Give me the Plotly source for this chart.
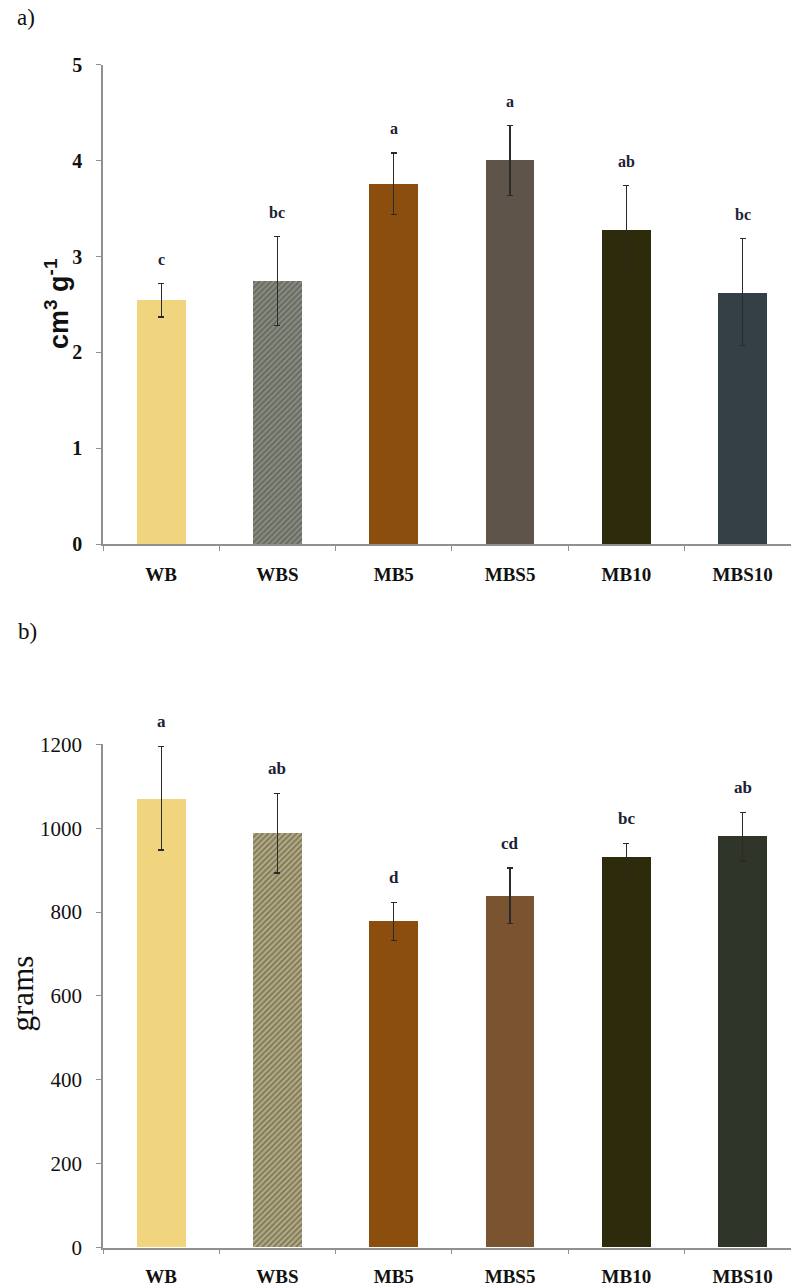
import plotly.graph_objects as go

categories = ["WB", "WBS", "MB5", "MBS5", "MB10", "MBS10"]

# Panel a) cm3 g-1
a_values = [2.55, 2.75, 3.76, 4.01, 3.28, 2.62]
a_upper = [2.72, 3.21, 4.08, 4.37, 3.74, 3.19]
a_lower = [2.37, 2.28, 3.44, 3.64, 2.83, 2.07]
a_letters = ["c", "bc", "a", "a", "ab", "bc"]
a_ticks = [0, 1, 2, 3, 4, 5]

# Panel b) grams
b_values = [1070, 988, 778, 838, 930, 980]
b_upper = [1195, 1083, 823, 905, 963, 1038]
b_lower = [948, 893, 733, 773, 898, 922]
b_letters = ["a", "ab", "d", "cd", "bc", "ab"]
b_ticks = [0, 200, 400, 600, 800, 1000, 1200]

a_colors = ["#F0D47E", "#8A8E80", "#8C4E0E", "#5E544A", "#2E2B0C", "#343F46"]
b_colors = ["#F0D47E", "#B8AE80", "#8C4E0E", "#7A5430", "#2E2B0C", "#30352A"]
a_pattern_fg = ["#F0D47E", "#585D50", "#8C4E0E", "#5E544A", "#2E2B0C", "#343F46"]
b_pattern_fg = ["#F0D47E", "#857B50", "#8C4E0E", "#7A5430", "#2E2B0C", "#30352A"]
shapes_pat = ["", "/", "", "", "", ""]

SERIF = "Liberation Serif"

fig = go.Figure()

fig.add_trace(go.Bar(
    x=categories, y=a_values, width=0.42,
    marker=dict(color=a_colors, line=dict(width=0),
                pattern=dict(shape=shapes_pat, fgcolor=a_pattern_fg,
                             size=4, solidity=0.5, fillmode="overlay")),
    error_y=dict(type="data", symmetric=False,
                 array=[u - v for u, v in zip(a_upper, a_values)],
                 arrayminus=[v - l for l, v in zip(a_lower, a_values)],
                 color="#2a2a2a", thickness=1.3, width=3),
    xaxis="x", yaxis="y", showlegend=False))

fig.add_trace(go.Bar(
    x=categories, y=b_values, width=0.42,
    marker=dict(color=b_colors, line=dict(width=0),
                pattern=dict(shape=shapes_pat, fgcolor=b_pattern_fg,
                             size=4, solidity=0.5, fillmode="overlay")),
    error_y=dict(type="data", symmetric=False,
                 array=[u - v for u, v in zip(b_upper, b_values)],
                 arrayminus=[v - l for l, v in zip(b_lower, b_values)],
                 color="#2a2a2a", thickness=1.3, width=3),
    xaxis="x2", yaxis="y2", showlegend=False))

annotations = []
for c, up, t in zip(categories, a_upper, a_letters):
    annotations.append(dict(x=c, y=up, xref="x", yref="y", text="<b>%s</b>" % t,
                            showarrow=False, yanchor="middle", yshift=24,
                            font=dict(family=SERIF, size=16, color="#1c2233")))
for c, up, t in zip(categories, b_upper, b_letters):
    annotations.append(dict(x=c, y=up, xref="x2", yref="y2", text="<b>%s</b>" % t,
                            showarrow=False, yanchor="middle", yshift=25,
                            font=dict(family=SERIF, size=17, color="#1c2233")))

H = 1287
L = 103
W = 791 - L
def px(xpix):
    return (xpix - L) / W
def py(ypix):
    corr = -4 + 8 * (ypix - 66) / 1182
    return 1 - ((ypix + corr - 8.9) / 0.9865) / H

annotations += [
    dict(x=px(26), y=py(19), xref="paper", yref="paper", text="a)", showarrow=False,
         font=dict(family=SERIF, size=23, color="#111"), xanchor="center", yanchor="middle"),
    dict(x=px(27), y=py(632), xref="paper", yref="paper", text="b)", showarrow=False,
         font=dict(family=SERIF, size=23, color="#111"), xanchor="center", yanchor="middle"),
    dict(x=px(57), y=py(305), xref="paper", yref="paper",
         text="<b>cm<sup>3</sup> g<sup>-1</sup></b>", showarrow=False, textangle=-90,
         font=dict(family="Liberation Sans", size=27, color="#111"), xanchor="center", yanchor="middle"),
    dict(x=px(22), y=py(994), xref="paper", yref="paper", text="grams", showarrow=False,
         textangle=-90, font=dict(family=SERIF, size=31, color="#111"),
         xanchor="center", yanchor="middle"),
]

xrange = [-0.5, -0.5 + W / 116.3]
axis_common = dict(showline=True, linecolor="#909090", linewidth=1.5, showgrid=False,
                   zeroline=False, ticks="outside", ticklen=5, tickcolor="#909090", tickwidth=1)

fig.update_layout(
    width=791, height=H,
    margin=dict(l=L, r=0, t=0, b=0),
    paper_bgcolor="white", plot_bgcolor="white",
    bargap=0,
    xaxis=dict(domain=[0, 1], anchor="y", type="category", range=xrange,
               tickson="boundaries", categoryorder="array", categoryarray=categories,
               tickfont=dict(family=SERIF, size=19, color="#111", weight="bold"),
               ticklabelstandoff=12, **axis_common),
    yaxis=dict(domain=[py(545), py(66)], anchor="x", range=[0, 5], tickvals=a_ticks,
               tickfont=dict(family=SERIF, size=20, color="#111", weight="bold"),
               ticklabelstandoff=10, **axis_common),
    xaxis2=dict(domain=[0, 1], anchor="y2", type="category", range=xrange,
                tickson="boundaries", categoryorder="array", categoryarray=categories,
                tickfont=dict(family=SERIF, size=19, color="#111", weight="bold"),
                ticklabelstandoff=11, **axis_common),
    yaxis2=dict(domain=[py(1248), py(745)], anchor="x2", range=[0, 1200], tickvals=b_ticks,
                tickfont=dict(family=SERIF, size=21, color="#111"),
                ticklabelstandoff=10, **axis_common),
    annotations=annotations,
)

fig.write_html("out.html")
